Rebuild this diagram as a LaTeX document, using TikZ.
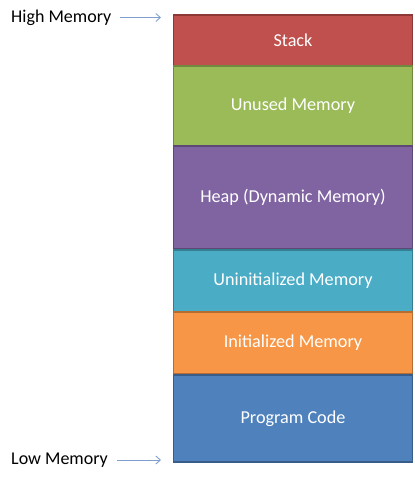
\documentclass[tikz,border=0pt]{standalone}
\usepackage{fontspec}
\setmainfont{Carlito}
\usetikzlibrary{arrows.meta}
\definecolor{cRed}{HTML}{C0504D}\definecolor{bRed}{HTML}{8C3836}
\definecolor{cGreen}{HTML}{9BBB59}\definecolor{bGreen}{HTML}{71893F}
\definecolor{cPurple}{HTML}{8064A2}\definecolor{bPurple}{HTML}{5C4776}
\definecolor{cTeal}{HTML}{4BACC6}\definecolor{bTeal}{HTML}{357D91}
\definecolor{cOrange}{HTML}{F79646}\definecolor{bOrange}{HTML}{B66D31}
\definecolor{cBlue}{HTML}{4F81BD}\definecolor{bBlue}{HTML}{385D8A}
\definecolor{arrowc}{HTML}{7F9FCF}
\tikzset{
  seg/.style={draw=#1, line width=1.3pt, minimum width=239pt, inner sep=0pt, text=white,
    font=\fontsize{18.2}{21}\selectfont},
  lbl/.style={anchor=west, inner sep=0pt, font=\fontsize{18}{21}\selectfont, text=black},
  pointer/.style={draw=arrowc, line width=0.9pt, -{Straight Barb[length=4.5pt,width=8pt]}}
}
\begin{document}
\begin{tikzpicture}[x=1pt,y=-1pt]
\useasboundingbox (0,0) rectangle (415,480);
\node[seg=bRed, fill=cRed, minimum height=51pt] (stack) at (293,40.5) {Stack};
\node[seg=bGreen, fill=cGreen, minimum height=80pt] (unused) at (293,106) {Unused Memory};
\node[seg=bPurple, fill=cPurple, minimum height=103pt] (heap) at (293,197.5) {Heap (Dynamic Memory)};
\node[seg=bTeal, fill=cTeal, minimum height=62pt] (uninit) at (293,281) {Uninitialized Memory};
\node[seg=bOrange, fill=cOrange, minimum height=62pt] (init) at (293,343) {Initialized Memory};
\node[seg=bBlue, fill=cBlue, minimum height=87pt] (code) at (293,418.5) {Program Code};
\node[lbl] (high) at (11,18) {High Memory};
\node[lbl] (low) at (11,460) {Low Memory};
\coordinate (hightip) at (161,17.5);
\coordinate (lowtip) at (161,460);
\coordinate (highstart) at (120,17.5);
\coordinate (lowstart) at (117,460);
\draw[pointer] (highstart) -- (hightip);
\draw[pointer] (lowstart) -- (lowtip);
\end{tikzpicture}
\end{document}
